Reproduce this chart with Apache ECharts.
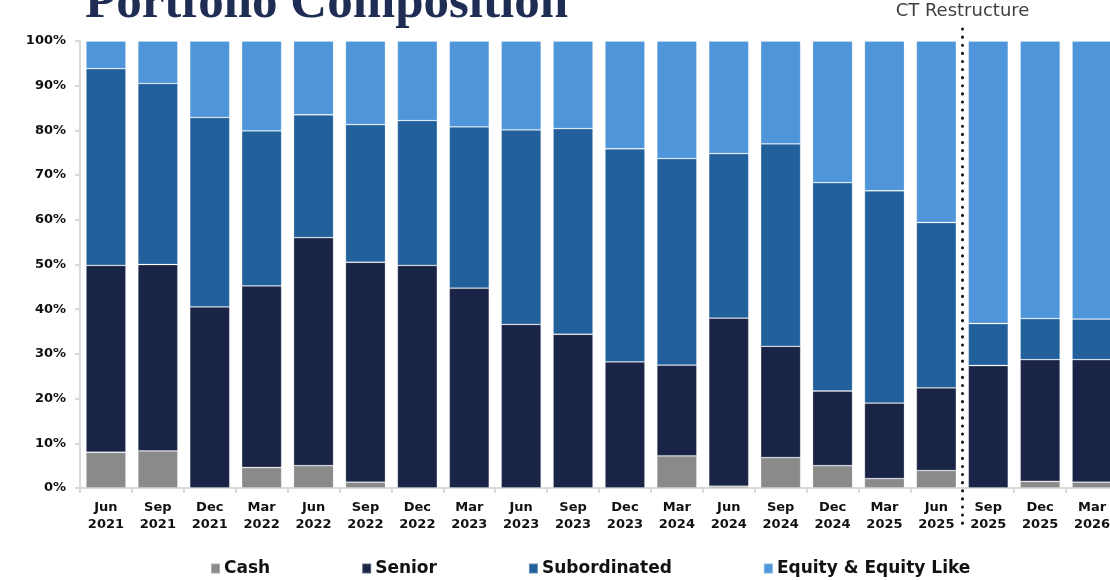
<!DOCTYPE html>
<html>
<head>
<meta charset="utf-8">
<script src="https://cdn.jsdelivr.net/npm/echarts@6/dist/echarts.min.js"></script>
<style>
html,body{margin:0;padding:0;background:#fff;}
#main{width:1110px;height:580px;}
</style>
</head>
<body>
<div id="main"></div>
<script>
const categories = ["Jun\n2021","Sep\n2021","Dec\n2021","Mar\n2022","Jun\n2022","Sep\n2022","Dec\n2022","Mar\n2023","Jun\n2023","Sep\n2023","Dec\n2023","Mar\n2024","Jun\n2024","Sep\n2024","Dec\n2024","Mar\n2025","Jun\n2025","Sep\n2025","Dec\n2025","Mar\n2026"];
const cash = [8.0,8.3,0,4.6,5.0,1.3,0,0,0,0,0,7.2,0.4,6.8,5.0,2.1,3.9,0,1.5,1.3];
const senior = [41.8,41.7,40.5,40.6,51.0,49.2,49.8,44.7,36.6,34.4,28.2,20.3,37.6,24.9,16.7,16.9,18.5,27.4,27.2,27.4];
const subordinated = [44.0,40.5,42.4,34.7,27.5,30.8,32.4,36.1,43.5,46.0,47.7,46.2,36.8,45.3,46.6,47.5,37.0,9.4,9.2,9.1];
const equity = [6.2,9.5,17.1,20.1,16.5,18.7,17.8,19.2,19.9,19.6,24.1,26.3,25.2,23.0,31.7,33.5,40.6,63.2,62.1,62.2];
const seriesNames = ["Cash","Senior","Subordinated","Equity & Equity Like"];
const seriesColors = ["#8a8a8a","#1a2446","#21609b","#4f95d9"];
const titleText = "Portfolio Composition";
const annotationText = "CT Restructure";
const restructureAfterIndex = 16;

const chart = echarts.init(document.getElementById('main'), null, {renderer:'canvas'});
const labelFont = 'DejaVu Sans';
function mk(name, data, i){
  return {
    name: name, type:'bar', stack:'total', data: data, barWidth: 40,
    itemStyle:{color: seriesColors[i], borderColor:'rgba(255,255,255,0.3)', borderWidth:0.8},
    emphasis:{disabled:true}
  };
}
chart.setOption({
  animation:false,
  backgroundColor:'#fff',
  grid:{left:80, top:41, bottom:92, width:1038, containLabel:false, outerBoundsMode:'none'},
  legend:{
    left:205, top:555, itemGap:91, itemWidth:9, itemHeight:10,
    icon:'rect',
    textStyle:{fontFamily:labelFont, fontWeight:'bold', fontSize:17, color:'#111', padding:[0,0,0,-1]},
    data: seriesNames
  },
  xAxis:{
    type:'category', data:categories,
    axisLine:{show:true, lineStyle:{color:'#d9d9d9', width:2}},
    axisTick:{show:true, length:5, lineStyle:{color:'#d9d9d9', width:2}},
    axisLabel:{interval:0, fontFamily:labelFont, fontWeight:'bold', fontSize:13, color:'#111', lineHeight:17, margin:11}
  },
  yAxis:{
    type:'value', min:0, max:100, interval:10,
    axisLine:{show:true, lineStyle:{color:'#d9d9d9', width:2}},
    axisTick:{show:true, length:5, lineStyle:{color:'#d9d9d9', width:2}},
    splitLine:{show:false},
    axisLabel:{formatter:'{value}%', fontFamily:labelFont, fontWeight:'bold', fontSize:13, color:'#111', margin:14}
  },
  series:[mk(seriesNames[0],cash,0), mk(seriesNames[1],senior,1), mk(seriesNames[2],subordinated,2), mk(seriesNames[3],equity,3)]
});

const xa = chart.convertToPixel({xAxisIndex:0}, restructureAfterIndex);
const xb = chart.convertToPixel({xAxisIndex:0}, restructureAfterIndex+1);
const lineX = Math.round((xa + xb)/2) + 0.5;
chart.setOption({
  graphic:[
    {type:'text', left:85, top:-22, style:{text:titleText, font:'bold 51px "Liberation Serif"', fill:'#1f2d55'}},
    {type:'text', x:lineX, y:11, style:{text:annotationText, font:'18px "DejaVu Sans"', fill:'#404040', textAlign:'center', textVerticalAlign:'middle'}},
    {type:'line', shape:{x1:lineX, y1:29, x2:lineX, y2:526}, style:{stroke:'#111', lineWidth:3, lineDash:[0.1,8], lineCap:'round'}, z:10}
  ]
});
</script>
</body>
</html>
